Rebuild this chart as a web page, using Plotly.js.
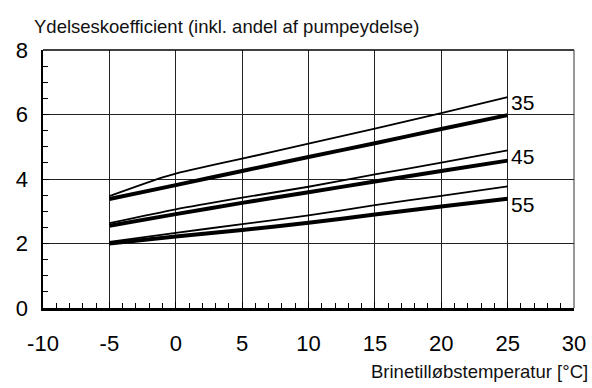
<!DOCTYPE html>
<html>
<head>
<meta charset="utf-8">
<script src="https://cdn.plot.ly/plotly-3.0.1.min.js"></script>
<style>html,body{margin:0;padding:0;background:#fff;}#chart{width:592px;height:388px;}</style>
</head>
<body>
<div id="chart"></div>
<script>
// Brine inlet temperature [°C] vs coefficient of performance
var xThin35 = [-5, -1, 0, 1, 5, 10, 15, 20, 25];
var yThin35 = [3.47, 4.05, 4.17, 4.27, 4.63, 5.10, 5.56, 6.04, 6.54];
var xThick35 = [-5, 0, 5, 10, 15, 20, 25];
var yThick35 = [3.38, 3.81, 4.25, 4.68, 5.11, 5.55, 5.98];

var xThin45 = [-5, 0, 5, 10, 15, 20, 25];
var yThin45 = [2.63, 3.06, 3.42, 3.76, 4.14, 4.51, 4.89];
var xThick45 = [-5, 0, 5, 10, 15, 20, 25];
var yThick45 = [2.55, 2.91, 3.26, 3.59, 3.92, 4.25, 4.57];

var xThin55 = [-5, 0, 5, 10, 15, 20, 25];
var yThin55 = [2.05, 2.33, 2.60, 2.87, 3.19, 3.48, 3.77];
var xThick55 = [-5, 0, 5, 10, 15, 20, 25];
var yThick55 = [2.00, 2.22, 2.42, 2.64, 2.90, 3.15, 3.39];

var seriesLabels = ['35', '45', '55'];
var labelX = [25, 25, 25];
var labelY = [6.37, 4.69, 3.20];

var xTicks = [-10, -5, 0, 5, 10, 15, 20, 25, 30];
var yTicks = [0, 2, 4, 6, 8];

var yTitle = 'Ydelseskoefficient (inkl. andel af pumpeydelse)';
var xTitle = 'Brinetilløbstemperatur [°C]';

function line(x, y, w) {
  return {x: x, y: y, type: 'scatter', mode: 'lines',
    line: {color: '#000', width: w, shape: 'spline', smoothing: 0.6}, hoverinfo: 'skip', showlegend: false};
}
var data = [
  line(xThin35, yThin35, 1.8), line(xThick35, yThick35, 4),
  line(xThin45, yThin45, 1.8), line(xThick45, yThick45, 4),
  line(xThin55, yThin55, 1.8), line(xThick55, yThick55, 4)
];

var fam = 'Liberation Sans, Arial, sans-serif';
var annotations = seriesLabels.map(function (t, i) {
  return {x: labelX[i], y: labelY[i], xref: 'x', yref: 'y', text: t, showarrow: false,
    xanchor: 'left', yanchor: 'middle', xshift: 1,
    font: {family: fam, size: 21, color: '#000'}};
});
annotations.push({x: 1, y: 0, xref: 'paper', yref: 'paper', text: xTitle, showarrow: false,
  xanchor: 'right', yanchor: 'top', xshift: 16, yshift: -51,
  font: {family: fam, size: 18.5, color: '#111'}});

var layout = {
  width: 592, height: 388,
  margin: {l: 43, r: 18, t: 50, b: 80},
  paper_bgcolor: '#fff', plot_bgcolor: '#fff',
  title: {text: yTitle, x: 34 / 592, xanchor: 'left', xref: 'container',
    y: 1 - 27 / 388, yanchor: 'middle', yref: 'container',
    font: {family: fam, size: 18.5, color: '#111'}},
  xaxis: {range: [-10, 30], tickvals: xTicks, ticktext: xTicks.map(String),
    showgrid: true, gridcolor: '#222', gridwidth: 1, zeroline: false,
    showline: true, linecolor: '#000', linewidth: 2.5,
    ticks: 'inside', ticklen: 6, tickcolor: '#000', tickwidth: 1,
    minor: {dtick: 1, ticks: 'inside', ticklen: 5, tickcolor: '#000', tickwidth: 1, showgrid: false},
    tickfont: {family: fam, size: 22, color: '#000'}, ticklabelstandoff: 14,
    fixedrange: true},
  yaxis: {range: [0, 8], tickvals: yTicks, ticktext: yTicks.map(String),
    showgrid: true, gridcolor: '#222', gridwidth: 1, zeroline: false,
    showline: true, linecolor: '#000', linewidth: 2.5,
    ticks: 'inside', ticklen: 6, tickcolor: '#000', tickwidth: 1,
    minor: {dtick: 0.5, ticks: 'inside', ticklen: 5, tickcolor: '#000', tickwidth: 1, showgrid: false},
    tickfont: {family: fam, size: 22, color: '#000'}, ticklabelstandoff: 8,
    fixedrange: true},
  shapes: [
    {type: 'line', xref: 'paper', yref: 'paper', x0: 0, x1: 1, y0: 1, y1: 1, line: {color: '#000', width: 1.5}},
    {type: 'line', xref: 'paper', yref: 'paper', x0: 1, x1: 1, y0: 0, y1: 1, line: {color: '#333', width: 1}}
  ],
  annotations: annotations
};

Plotly.newPlot('chart', data, layout, {staticPlot: true, displayModeBar: false});
</script>
</body>
</html>
